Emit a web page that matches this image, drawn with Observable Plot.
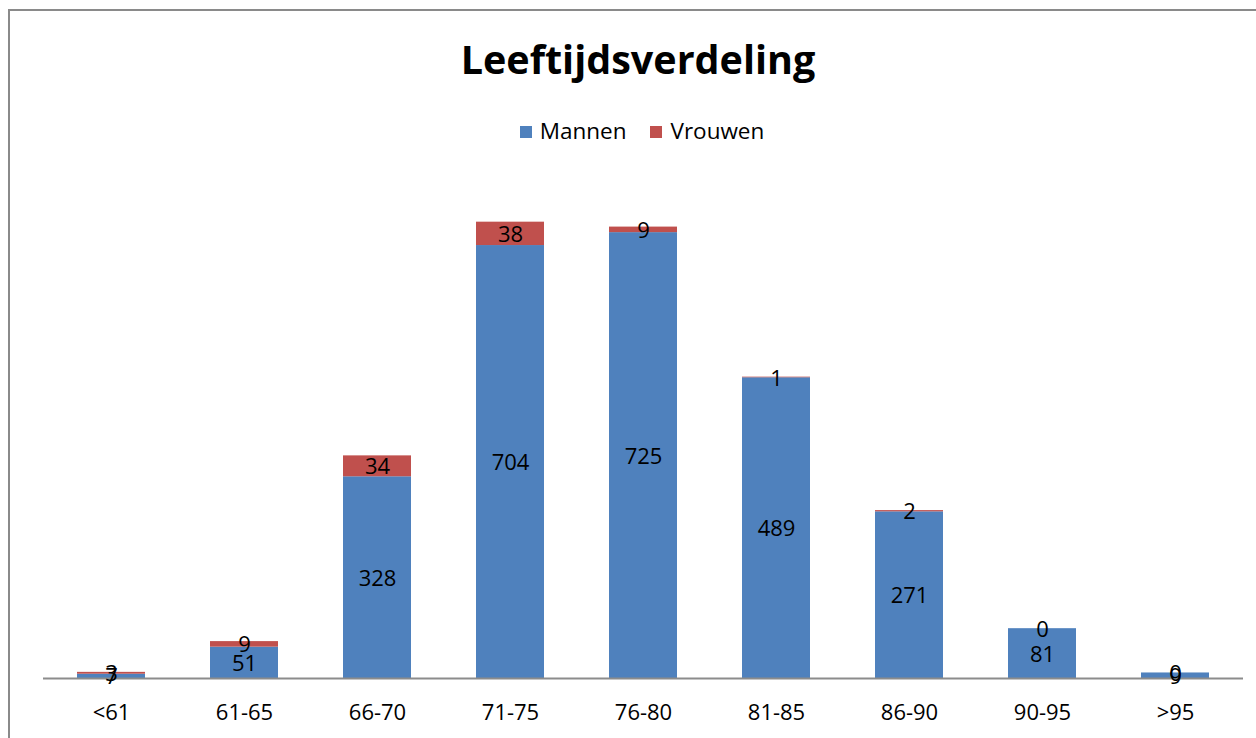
<!DOCTYPE html>
<html>
<head>
<meta charset="utf-8">
<script src="https://cdn.jsdelivr.net/npm/d3@7"></script>
<script src="https://cdn.jsdelivr.net/npm/@observablehq/plot@0.6"></script>
<style>
  html, body { margin: 0; padding: 0; background: #fff; }
  #wrap { position: relative; width: 1256px; height: 738px; overflow: hidden; font-family: "Open Sans", sans-serif; }
  #frame { position: absolute; left: 8px; top: 9px; width: 1260px; height: 740px; border-top: 2px solid #8a8a8a; border-left: 2px solid #8a8a8a; box-sizing: border-box; }
  #title { position: absolute; left: 0; width: 1276px; top: 29px; text-align: center; font-size: 39.5px; font-weight: 700; color: #000; line-height: 60px; }
  #legend { position: absolute; left: 0; width: 1284px; top: 116px; text-align: center; font-size: 22.5px; color: #000; line-height: 30px; white-space: nowrap; }
  #legend span.sw { display: inline-block; width: 12px; height: 12px; margin-right: 8px; vertical-align: 1px; }
  #legend span.item { margin: 0 12px; }
  #chart { position: absolute; left: 0; top: 150px; }
</style>
</head>
<body>
<div id="wrap">
  <div id="frame"></div>
  <div id="title">Leeftijdsverdeling</div>
  <div id="legend"></div>
  <div id="chart"></div>
</div>
<script>
const categories = ["<61", "61-65", "66-70", "71-75", "76-80", "81-85", "86-90", "90-95", ">95"];
const mannen = [7, 51, 328, 704, 725, 489, 271, 81, 9];
const vrouwen = [3, 9, 34, 38, 9, 1, 2, 0, 0];
const seriesNames = ["Mannen", "Vrouwen"];
const seriesColors = ["#4F81BD", "#C0504D"];

const legend = document.getElementById("legend");
legend.innerHTML = seriesNames.map((n, i) =>
  `<span class="item"><span class="sw" style="background:${seriesColors[i]}"></span>${n}</span>`).join("");

const rows = [];
categories.forEach((c, i) => {
  rows.push({cat: c, series: "Mannen", y1: 0, y2: mannen[i], mid: mannen[i] / 2, v: mannen[i]});
  rows.push({cat: c, series: "Vrouwen", y1: mannen[i], y2: mannen[i] + vrouwen[i], mid: mannen[i] + vrouwen[i] / 2, v: vrouwen[i]});
});

const chart = Plot.plot({
  width: 1256,
  height: 588,
  marginTop: 36,
  marginBottom: 60,
  marginLeft: 43,
  marginRight: 13,
  style: {fontFamily: "Open Sans, sans-serif", fontSize: "22px", color: "#000", background: "transparent"},
  x: {domain: categories, paddingInner: 0.49, paddingOuter: 0.245, label: null},
  y: {domain: [0, 800], axis: null},
  color: {domain: seriesNames, range: seriesColors},
  marks: [
    Plot.barY(rows, {x: "cat", y1: "y1", y2: "y2", fill: "series"}),
    Plot.ruleY([0], {stroke: "#8c8c8c", strokeWidth: 2}),
    Plot.axisX({tickSize: 0, tickPadding: 26, fontSize: 22, fill: "#000"}),
    Plot.text(rows, {x: "cat", y: "mid", text: "v", fontSize: 22, fill: "#000", dy: 1})
  ]
});
document.getElementById("chart").appendChild(chart);
</script>
</body>
</html>
